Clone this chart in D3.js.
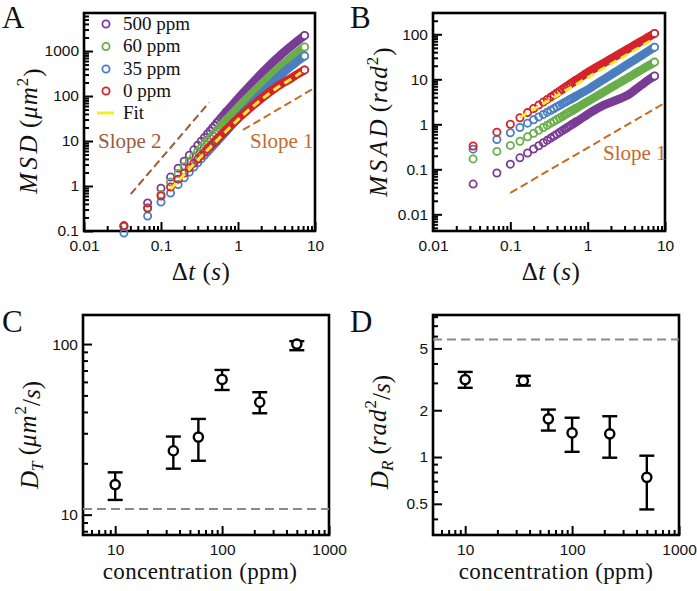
<!DOCTYPE html>
<html><head><meta charset="utf-8">
<script src="https://cdn.jsdelivr.net/npm/d3@7"></script>
<style>body{margin:0;background:#fff}svg{display:block;background:#fff}</style>
</head><body><svg id="c" width="697" height="591"></svg>
<script>
// ---------- data ----------
const lags = [0.033,0.067,0.1,0.133,0.167,0.2,0.233,0.267,0.3,0.333,0.367,0.4,0.433,0.467,0.5,0.533,0.567,0.6,0.633,0.667,0.7,0.8,0.9,1,1.2,1.5,2,2.5,3,3.5,4,5,6,7.33];
const msd500 = [0.13,0.42,0.89,1.58,2.49,3.57,4.85,6.37,8.04,9.9,12.0,14.3,16.7,19.5,22.3,25.4,28.7,32.2,35.8,39.7,43.8,56.8,71.3,87.3,123,186,312,458,619,786,960,1318,1695,2220];
const msd60  = [0.125,0.33,0.65,1.23,1.90,2.67,3.57,4.62,5.77,7.04,8.46,9.96,11.6,13.4,15.2,17.2,19.3,21.5,23.8,26.3,28.9,37.0,45.8,55.4,76.2,112,181,260,347,439,535,735,945,1230];
const msd35  = [0.09,0.215,0.44,0.70,1.08,1.52,2.03,2.63,3.28,4.0,4.82,5.67,6.59,7.61,8.67,9.78,11.0,12.25,13.6,15.0,16.45,21.2,26.5,32.2,45.0,67.2,111,162,219,280,345,470,605,775];
const msd0   = [0.13,0.32,0.6,0.95,1.42,1.94,2.54,3.22,3.95,4.74,5.61,6.52,7.50,8.56,9.64,10.8,12.0,13.3,14.6,16.0,17.4,21.8,26.5,31.4,41.7,58.3,87.7,118.5,148,176,203,255,310,380];
const fitMsdT = [0.133,0.2,0.3,0.5,0.7,1,1.5,2,3,4,5,6.6];
const fitMsdV = [0.85,1.8,3.8,9.2,16.5,29.8,55.5,83,140,193,242,335];

const msad500 = [0.047,0.083,0.13,0.18,0.231,0.282,0.334,0.388,0.44,0.494,0.55,0.604,0.66,0.717,0.772,0.829,0.887,0.944,1.0,1.06,1.12,1.29,1.47,1.66,2.02,2.51,3.08,3.61,4.11,4.75,5.64,7.52,9.51,11.8];
const msad60  = [0.17,0.25,0.34,0.42,0.529,0.634,0.740,0.849,0.955,1.06,1.17,1.28,1.38,1.49,1.60,1.71,1.82,1.92,2.03,2.14,2.25,2.57,2.90,3.22,3.87,4.85,6.49,8.13,9.77,11.4,13.1,16.4,19.7,24.1];
const msad35  = [0.28,0.46,0.65,0.85,1.06,1.26,1.46,1.66,1.86,2.05,2.25,2.45,2.64,2.84,3.03,3.22,3.42,3.61,3.80,4.0,4.18,4.76,5.33,5.9,7.2,9.18,12.6,16.0,19.5,23.1,26.7,34.1,41.6,51.7];
const msad0   = [0.33,0.67,1.0,1.4,1.82,2.24,2.67,3.12,3.57,4.02,4.50,4.97,5.44,5.93,6.42,6.91,7.42,7.92,8.42,8.94,9.45,11.0,12.6,14.25,17.1,21.4,28.5,35.6,42.8,49.9,57,71.3,85.5,104.5];
const fitMsadT = [0.133,0.5,1,2,4,7];
const fitMsadV = [1.43,5.4,10.9,21.8,43.5,77];

const slope2T = [0.0404,0.42], slope2V = [0.66,71];
const slope1AT = [1.16,9.3], slope1AV = [17.6,143];
const slope1BT = [0.1,9.3], slope1BV = [0.03,2.8];

const seriesNames = ["500 ppm","60 ppm","35 ppm","0 ppm"];

const conc = [10,35,60,100,225,500];
const DT = [15,23.7,28.5,62,45.6,100];
const DTlo = [12.2,18.6,20.7,53.8,39.3,92];
const DThi = [17.7,28.7,36.4,70.5,52.2,104];
const DTref = 10.8;
const DR = [3.15,3.1,1.76,1.43,1.41,0.74];
const DRlo = [2.79,2.88,1.48,1.08,0.99,0.46];
const DRhi = [3.53,3.33,2.02,1.79,1.83,1.02];
const DRref = 5.7;

const lagTicks = [0.01,0.1,1,10];
const msdTicks = [0.1,1,10,100,1000];
const msadTicks = [0.01,0.1,1,10,100];
const concTicks = [10,100,1000];
const dtTicks = [10,100];
const drTicks = [0.5,1,2,5];

// ---------- styles ----------
const COL = {p:"#7a3b97", g:"#6aae4b", b:"#4a7ec0", r:"#d4232a", fit:"#f4ec2c", s2:"#9e5a34", s1:"#c96a22", grey:"#8a8a8a"};
const SERIF = "'Liberation Serif','Times New Roman',serif";
const SANS = "'Liberation Sans',Arial,Helvetica,sans-serif";

const svg = d3.select("#c");

function minorTicks(domain, skip){
  const out=[]; const lo=Math.floor(Math.log10(domain[0])), hi=Math.ceil(Math.log10(domain[1]));
  for(let d=lo; d<=hi; d++) for(let m=1;m<=9;m++){
    const v=+(m*Math.pow(10,d)).toPrecision(6);
    if(v>=domain[0]*1.0001 && v<=domain[1]/1.0001 && !skip.some(s=>Math.abs(s-v)/v<1e-6)) out.push(v);
  }
  return out;
}

function panel(cfg){
  const g = svg.append("g");
  const x = d3.scaleLog().domain(cfg.xd).range([cfg.l,cfg.r]);
  const y = d3.scaleLog().domain(cfg.yd).range([cfg.b,cfg.t]);
  const fmt = d => String(d);
  const yMaj = d3.axisLeft(y).tickValues(cfg.yt).tickSize(-9).tickPadding(5).tickFormat(fmt);
  const yMin = d3.axisLeft(y).tickValues(minorTicks(cfg.yd, cfg.yt)).tickSize(-5).tickFormat("");
  const xMaj = d3.axisBottom(x).tickValues(cfg.xt).tickSize(-9).tickPadding(9).tickFormat(fmt);
  const xMin = d3.axisBottom(x).tickValues(minorTicks(cfg.xd, cfg.xt)).tickSize(-5).tickFormat("");
  [[yMin,"y"],[yMaj,"y"],[xMin,"x"],[xMaj,"x"]].forEach(([ax,k])=>{
    const a = g.append("g").attr("transform", k==="y" ? `translate(${cfg.l},0)` : `translate(0,${cfg.b})`).call(ax);
    a.select(".domain").remove();
    a.selectAll("line").attr("stroke","#000").attr("stroke-width",2);
    a.selectAll("text").attr("font-family",SANS).attr("font-size",15.5).attr("fill","#111");
  });
  g.append("rect").attr("x",cfg.l).attr("y",cfg.t).attr("width",cfg.r-cfg.l).attr("height",cfg.b-cfg.t)
    .attr("fill","none").attr("stroke","#000").attr("stroke-width",2.6);
  return {g,x,y};
}

function mathText(g, x, y, parts, rotate, size, ls){
  const t = g.append("text").attr("font-family",SERIF).attr("font-size",size||25).attr("fill","#111")
    .attr("text-anchor","middle").attr("letter-spacing", ls||0)
    .attr("transform", `translate(${x},${y})` + (rotate?" rotate(-90)":""));
  parts.forEach(p=>{
    const s = t.append("tspan").text(p[0]);
    if(p[1]&&p[1].includes("i")) s.attr("font-style","italic");
    if(p[1]&&p[1].includes("sup")) s.attr("font-size","0.68em").attr("dy","-0.55em");
    if(p[1]&&p[1].includes("sub")) s.attr("font-size","0.68em").attr("dy","0.3em");
    if(p[2]) s.attr("dy", p[2]);
    if(p[3]!=null) s.attr("letter-spacing", p[3]);
  });
  return t;
}

function drawSeries(P, xs, ys, color, bandFrom){
  const pts = xs.map((t,i)=>[t,ys[i]]);
  const line = d3.line().x(d=>P.x(d[0])).y(d=>P.y(d[1])).curve(d3.curveMonotoneX);
  P.g.append("path").datum(pts.slice(bandFrom)).attr("d",line).attr("fill","none")
    .attr("stroke",color).attr("stroke-width",8.6).attr("stroke-linecap","round").attr("stroke-linejoin","round");
  P.g.selectAll(null).data(pts.slice(0,bandFrom+1)).join("circle")
    .attr("cx",d=>P.x(d[0])).attr("cy",d=>P.y(d[1])).attr("r",3.6)
    .attr("fill","none").attr("stroke",color).attr("stroke-width",1.8);
  const last = pts[pts.length-1];
  P.g.append("circle").attr("cx",P.x(last[0])).attr("cy",P.y(last[1])).attr("r",3.6)
    .attr("fill","#fff").attr("stroke",color).attr("stroke-width",1.8);
}

function dashed(P, xs, ys, color, w, dash){
  const line = d3.line().x(d=>P.x(d[0])).y(d=>P.y(d[1])).curve(d3.curveMonotoneX);
  P.g.append("path").datum(xs.map((t,i)=>[t,ys[i]])).attr("d",line).attr("fill","none")
    .attr("stroke",color).attr("stroke-width",w).attr("stroke-dasharray",dash);
}

function letter(x,y,s){
  svg.append("text").attr("x",x).attr("y",y).attr("font-family",SERIF).attr("font-size",31).attr("fill","#111").text(s);
}

// ---------- Panel A ----------
const A = panel({l:84,r:315,t:13,b:231,xd:[0.01,10],yd:[0.1,7000],xt:lagTicks,yt:msdTicks});
const seriesA = [[msd500,COL.p],[msd60,COL.g],[msd35,COL.b],[msd0,COL.r]];
seriesA.forEach(([v,c])=>drawSeries(A,lags,v,c,20));
dashed(A, fitMsdT, fitMsdV, COL.fit, 3, "8,5");
dashed(A, slope2T, slope2V, COL.s2, 2, "8,4");
dashed(A, slope1AT, slope1AV, COL.s1, 2, "8,4");
A.g.append("text").attr("x",98).attr("y",148).attr("font-family",SERIF).attr("font-size",21).attr("fill","#9b5b3e").text("Slope 2");
A.g.append("text").attr("x",250).attr("y",148).attr("font-family",SERIF).attr("font-size",21).attr("fill","#c46a2c").text("Slope 1");
const legCols = [COL.p,COL.g,COL.b,COL.r];
const legY = [24,46.5,69,91];
seriesNames.forEach((n,i)=>{
  A.g.append("circle").attr("cx",106).attr("cy",legY[i]).attr("r",3.6).attr("fill","none").attr("stroke",legCols[i]).attr("stroke-width",1.8);
  A.g.append("text").attr("x",123).attr("y",legY[i]+5.5).attr("font-family",SERIF).attr("font-size",19).attr("fill","#111").text(n);
});
A.g.append("line").attr("x1",97).attr("x2",114).attr("y1",113).attr("y2",113).attr("stroke",COL.fit).attr("stroke-width",3);
A.g.append("text").attr("x",123).attr("y",118.5).attr("font-family",SERIF).attr("font-size",19).attr("fill","#111").text("Fit");
mathText(A.g, 37, 131, [["M","i",null,"3.5px"],["S","i",null,"3.5px"],["D","i",null,"0px"],[" (",null,null,"1px"],["μ","i",null,"1px"],["m","i",null,"1px"],["2","sup",null,"1px"],[")",null,"0.55em"]], true, 25);
mathText(A.g, 201, 280, [["Δ"],["t","i"],["  ("],["s","i"],[")"]], false, 25, 0.5);
letter(2,28,"A");

// ---------- Panel B ----------
const B = panel({l:433,r:665,t:13,b:231,xd:[0.01,10],yd:[0.00426,297],xt:lagTicks,yt:msadTicks});
const seriesB = [[msad500,COL.p],[msad60,COL.g],[msad35,COL.b],[msad0,COL.r]];
seriesB.forEach(([v,c])=>drawSeries(B,lags,v,c,20));
dashed(B, fitMsadT, fitMsadV, COL.fit, 3, "8,5");
dashed(B, slope1BT, slope1BV, COL.s1, 2, "8,4");
B.g.append("text").attr("x",603).attr("y",160).attr("font-family",SERIF).attr("font-size",21).attr("fill","#c46a2c").text("Slope 1");
mathText(B.g, 387, 122, [["M","i",null,"3.5px"],["S","i",null,"3.5px"],["A","i",null,"3.5px"],["D","i",null,"0px"],[" (",null,null,"1px"],["rad","i",null,"1px"],["2","sup",null,"1px"],[")",null,"0.55em"]], true, 25);
mathText(B.g, 551, 280, [["Δ"],["t","i"],["  ("],["s","i"],[")"]], false, 25, 0.5);
letter(350,28,"B");

// ---------- Panel C / D ----------
function errPanel(P, vals, lo, hi, ref){
  P.g.append("line").attr("x1",P.x.range()[0]).attr("x2",P.x.range()[1]).attr("y1",P.y(ref)).attr("y2",P.y(ref))
    .attr("stroke",COL.grey).attr("stroke-width",2).attr("stroke-dasharray","9,5");
  conc.forEach((c,i)=>{
    const cx=P.x(c);
    P.g.append("line").attr("x1",cx).attr("x2",cx).attr("y1",P.y(lo[i])).attr("y2",P.y(hi[i])).attr("stroke","#000").attr("stroke-width",2.4);
    [lo[i],hi[i]].forEach(v=>P.g.append("line").attr("x1",cx-7.5).attr("x2",cx+7.5).attr("y1",P.y(v)).attr("y2",P.y(v)).attr("stroke","#000").attr("stroke-width",2.4));
    P.g.append("circle").attr("cx",cx).attr("cy",P.y(vals[i])).attr("r",4.6).attr("fill","#fff").attr("stroke","#000").attr("stroke-width",2.4);
  });
}
const C = panel({l:83,r:329,t:315,b:535,xd:[5,1000],yd:[7.6,148],xt:concTicks,yt:dtTicks});
errPanel(C, DT, DTlo, DThi, DTref);
mathText(C.g, 38, 435, [["D","i"],["T","i sub"],["  (",null,"-0.3em"],["μm","i",null,"1px"],["2","sup"],["/",null,"0.55em"],["s","i"],[")"]], true, 25);
mathText(C.g, 200, 579, [["concentration (ppm)"]], false, 23, 0.4);
letter(2,332,"C");

const D = panel({l:433,r:679,t:315,b:535,xd:[5,1000],yd:[0.315,8.2],xt:concTicks,yt:drTicks});
errPanel(D, DR, DRlo, DRhi, DRref);
mathText(D.g, 388, 432, [["D","i"],["R","i sub"],["  (",null,"-0.3em"],["rad","i",null,"1px"],["2","sup"],["/",null,"0.55em"],["s","i"],[")"]], true, 25);
mathText(D.g, 556, 579, [["concentration (ppm)"]], false, 23, 0.4);
letter(350,332,"D");
</script></body></html>
